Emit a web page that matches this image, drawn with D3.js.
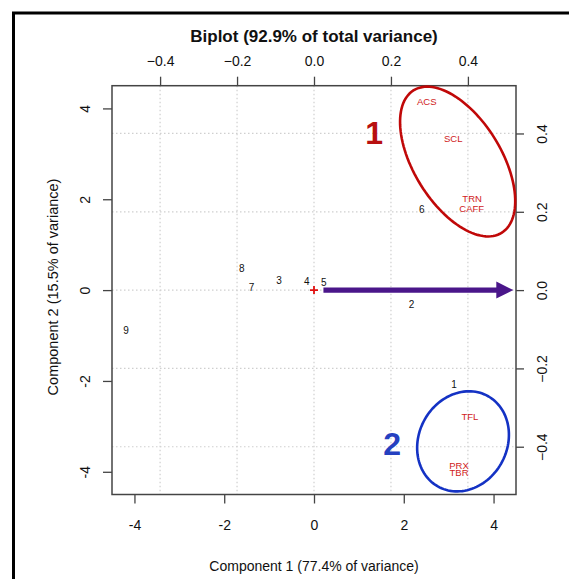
<!DOCTYPE html>
<html><head><meta charset="utf-8">
<script src="https://cdn.jsdelivr.net/npm/d3@7"></script>
<style>
html,body{margin:0;padding:0;background:#fff;}
svg{display:block;font-family:"Liberation Sans",Arial,sans-serif;}
</style></head>
<body>
<svg id="chart" width="569" height="579"></svg>
<script>
// ---- data ----
const titleText = "Biplot (92.9% of total variance)";
const xTitle = "Component 1 (77.4% of variance)";
const yTitle = "Component 2 (15.5% of variance)";
const primaryTicks = [-4, -2, 0, 2, 4];
const secondaryTicks = [-0.4, -0.2, 0.0, 0.2, 0.4];

const obsLabels = ["1","2","3","4","5","6","7","8","9"];
const obsX = [3.12, 2.17, -0.78, -0.16, 0.22, 2.40, -1.39, -1.61, -4.19];
const obsY = [-2.08, -0.31, 0.22, 0.20, 0.17, 1.77, 0.06, 0.48, -0.90];

const varLabels = ["ACS","SCL","TRN","CAFF","TFL","PRX","TBR"];
const varX = [0.293, 0.362, 0.411, 0.410, 0.405, 0.377, 0.377];
const varY = [0.481, 0.387, 0.234, 0.209, -0.324, -0.447, -0.466];

// cluster ellipses (primary units): centre, semi-axes, angle (deg)
const clusterNames = ["1","2"];
const clusterCX = [3.20, 3.32];
const clusterCY = [2.83, -3.33];
const clusterA = [1.85, 1.14];
const clusterB = [0.97, 0.98];
const clusterAngle = [-57.8, 60];
const clusterLabelX = [1.34, 1.74];
const clusterLabelY = [3.45, -3.38];

// arrow (primary units)
const arrowFrom = [0.21, 0];
const arrowTo = [4.44, 0];

// ---- drawing ----
const svg = d3.select("#chart");
const L = 112, R = 516, T = 85.7, B = 494.5;
const x = d3.scaleLinear([-4.5, 4.5], [L, R]);
const y = d3.scaleLinear([-4.5, 4.5], [B, T]);
const x2 = d3.scaleLinear([-0.525, 0.525], [L, R]);
const y2 = d3.scaleLinear([-0.522, 0.522], [B, T]);

const axisCol = "#444";

// outer frame
svg.append("rect").attr("x", 13.5).attr("y", 13).attr("width", 620).attr("height", 620)
  .attr("fill", "none").attr("stroke", "#000").attr("stroke-width", 3);

// grid
const grid = svg.append("g").attr("stroke", "#cfcfcf").attr("stroke-width", 1.2)
  .attr("stroke-dasharray", "1.5,2.5");
grid.selectAll(".gv").data(secondaryTicks).join("line")
  .attr("x1", d => x2(d)).attr("x2", d => x2(d)).attr("y1", T).attr("y2", B);
grid.selectAll(".gh").data(secondaryTicks).join("line")
  .attr("y1", d => y2(d)).attr("y2", d => y2(d)).attr("x1", L).attr("x2", R);

// axes
function styleAxis(g) {
  g.select(".domain").remove();
  g.selectAll(".tick line").attr("stroke", axisCol).attr("stroke-width", 1.3);
  g.selectAll(".tick text").attr("fill", "#111").style("font-size", "14px")
    .style("font-family", "'Liberation Sans', Arial, sans-serif");
}
const fmt2 = d3.format(".1f");
const gB = svg.append("g").attr("transform", `translate(0,${B})`)
  .call(d3.axisBottom(x).tickValues(primaryTicks).tickSize(9).tickFormat(d => d)).call(styleAxis);
gB.selectAll(".tick text").attr("y", 30).attr("dy", null).attr("dominant-baseline", "central");

const gT = svg.append("g").attr("transform", `translate(0,${T})`)
  .call(d3.axisTop(x2).tickValues(secondaryTicks).tickSize(9).tickFormat(fmt2)).call(styleAxis);
gT.selectAll(".tick text").attr("y", -24.5).attr("dy", null).attr("dominant-baseline", "central");

const gL = svg.append("g").attr("transform", `translate(${L},0)`)
  .call(d3.axisLeft(y).tickValues(primaryTicks).tickSize(9).tickFormat(d => d)).call(styleAxis);
gL.selectAll(".tick text").attr("x", null).attr("dy", null)
  .attr("text-anchor", "middle").attr("dominant-baseline", "central")
  .attr("transform", "translate(-27,0) rotate(-90)");

const gR = svg.append("g").attr("transform", `translate(${R},0)`)
  .call(d3.axisRight(y2).tickValues(secondaryTicks).tickSize(8).tickFormat(fmt2)).call(styleAxis);
gR.selectAll(".tick text").attr("x", null).attr("dy", null)
  .attr("text-anchor", "middle").attr("dominant-baseline", "central")
  .attr("transform", "translate(26,0) rotate(-90)");

// box
svg.append("rect").attr("x", L).attr("y", T).attr("width", R - L).attr("height", B - T)
  .attr("fill", "none").attr("stroke", axisCol).attr("stroke-width", 1.5);

// titles
svg.append("text").attr("x", 314).attr("y", 36).attr("text-anchor", "middle")
  .attr("dominant-baseline", "central").style("font-size", "17px").style("font-weight", "bold")
  .attr("fill", "#111").text(titleText);
svg.append("text").attr("x", 314).attr("y", 566).attr("text-anchor", "middle")
  .attr("dominant-baseline", "central").style("font-size", "14px").attr("fill", "#111").text(xTitle);
svg.append("text").attr("transform", "translate(53,287) rotate(-90)").attr("text-anchor", "middle")
  .attr("dominant-baseline", "central").style("font-size", "14.5px").attr("fill", "#111").text(yTitle);

// ellipses
const ellColors = ["#c00808", "#1432c4"];
const lblColors = ["#b81010", "#2540c0"];
const line = d3.line().curve(d3.curveLinearClosed);
clusterNames.forEach((n, i) => {
  const th = clusterAngle[i] * Math.PI / 180;
  const pts = d3.range(0, 120).map(k => {
    const t = k / 120 * 2 * Math.PI;
    const dx = clusterA[i] * Math.cos(t) * Math.cos(th) - clusterB[i] * Math.sin(t) * Math.sin(th);
    const dy = clusterA[i] * Math.cos(t) * Math.sin(th) + clusterB[i] * Math.sin(t) * Math.cos(th);
    return [x(clusterCX[i] + dx), y(clusterCY[i] + dy)];
  });
  svg.append("path").attr("d", line(pts)).attr("fill", "none")
    .attr("stroke", ellColors[i]).attr("stroke-width", 2.6);
  svg.append("text").attr("x", x(clusterLabelX[i])).attr("y", y(clusterLabelY[i]))
    .attr("text-anchor", "middle").attr("dominant-baseline", "central")
    .style("font-size", "32px").style("font-weight", "bold").attr("fill", lblColors[i]).text(n);
});

// origin cross
svg.append("path").attr("d", `M${x(0)-4},${y(0)}H${x(0)+4}M${x(0)},${y(0)-4}V${y(0)+4}`)
  .attr("stroke", "#e01010").attr("stroke-width", 1.8);

// observation labels
svg.append("g").selectAll("text").data(obsLabels).join("text")
  .attr("x", (d, i) => x(obsX[i])).attr("y", (d, i) => y(obsY[i]))
  .attr("text-anchor", "middle").attr("dominant-baseline", "central")
  .style("font-size", "10px").attr("fill", "#111").text(d => d);

// variable labels
svg.append("g").selectAll("text").data(varLabels).join("text")
  .attr("x", (d, i) => x2(varX[i])).attr("y", (d, i) => y2(varY[i]))
  .attr("text-anchor", "middle").attr("dominant-baseline", "central")
  .style("font-size", "9.5px").attr("fill", "#d01a1a").text(d => d);

// arrow
const ax0 = x(arrowFrom[0]), ay = y(arrowFrom[1]), ax1 = x(arrowTo[0]);
const headLen = 17, headHalf = 8.5, shaftHalf = 2.6;
svg.append("path")
  .attr("d", `M${ax0},${ay-shaftHalf}H${ax1-headLen}V${ay-headHalf}L${ax1},${ay}L${ax1-headLen},${ay+headHalf}V${ay+shaftHalf}H${ax0}Z`)
  .attr("fill", "#4a168a");
</script>
</body></html>
